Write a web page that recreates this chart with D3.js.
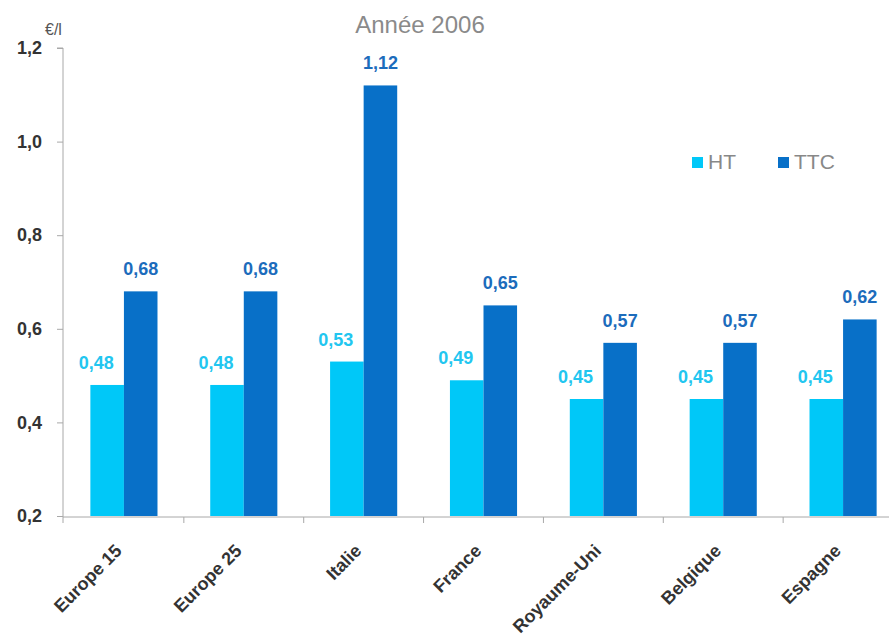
<!DOCTYPE html>
<html>
<head>
<meta charset="utf-8">
<script src="https://cdn.jsdelivr.net/npm/d3@7"></script>
<style>
  html, body { margin: 0; padding: 0; background: #fff; }
  svg { display: block; font-family: "Liberation Sans", Arial, sans-serif; }
</style>
</head>
<body>
<svg id="chart" width="889" height="639"></svg>
<script>
// Prix moyen au litre, année 2006
const categories = ["Europe 15", "Europe 25", "Italie", "France", "Royaume-Uni", "Belgique", "Espagne"];
const series = ["HT", "TTC"];
const htValues = [0.48, 0.48, 0.53, 0.49, 0.45, 0.45, 0.45];
const ttcValues = [0.68, 0.68, 1.12, 0.65, 0.57, 0.57, 0.62];
const yTicks = [0.2, 0.4, 0.6, 0.8, 1.0, 1.2];
const title = "Année 2006";
const unit = "€/l";

const colors = { HT: "#00c8f8", TTC: "#0870c8" };
const labelColors = { HT: "#22c6f0", TTC: "#1c6cbc" };

const rows = categories.map((c, i) => ({ cat: c, HT: htValues[i], TTC: ttcValues[i] }));

const svg = d3.select("#chart");
const axisX = 63, baseY = 516, topY = 48;

const fr = d3.formatLocale({ decimal: ",", thousands: " ", grouping: [3], currency: ["", " €"] });
const fmtTick = fr.format(".1f");
const fmtVal = fr.format(".2f");

const x = d3.scaleBand().domain(categories).range([64, 903]).paddingInner(0.44).paddingOuter(0.22);
const xs = d3.scaleBand().domain(series).range([0, x.bandwidth()]);
const y = d3.scaleLinear().domain([0.2, 1.2]).range([baseY, topY]);

// Title and unit
svg.append("text").attr("x", 420).attr("y", 33).attr("text-anchor", "middle")
  .attr("font-size", 24).attr("fill", "#8a8a8a").text(title);
svg.append("text").attr("x", 45).attr("y", 35)
  .attr("font-size", 16).attr("fill", "#555").text(unit);

// Y axis
const yAxis = d3.axisLeft(y).tickValues(yTicks).tickSize(6).tickPadding(15).tickFormat(fmtTick);
const gy = svg.append("g").attr("transform", `translate(${axisX},0)`).call(yAxis);
gy.select(".domain").attr("stroke", "#a8a8a8").attr("d", `M-6,${topY}H0V${baseY + 1}`);
gy.selectAll(".tick line").attr("stroke", "#a8a8a8");
gy.selectAll(".tick text").attr("font-size", 18).attr("font-weight", "bold")
  .attr("fill", "#333").attr("font-family", "\"Liberation Sans Narrow\", \"Liberation Sans\", Arial, sans-serif");

// Bars
const groups = svg.append("g").selectAll("g").data(rows).join("g")
  .attr("transform", d => `translate(${x(d.cat)},0)`);

groups.selectAll("rect").data(d => series.map(s => ({ s, v: d[s] }))).join("rect")
  .attr("x", d => xs(d.s)).attr("width", xs.bandwidth())
  .attr("y", d => y(d.v)).attr("height", d => y(0.2) - y(d.v))
  .attr("fill", d => colors[d.s]);

// Value labels
groups.selectAll("text.val").data(d => series.map(s => ({ s, v: d[s] }))).join("text")
  .attr("class", "val")
  .attr("x", d => xs(d.s) + xs.bandwidth() / 2 + (d.s === "HT" ? -11 : 0))
  .attr("y", d => y(d.v) - 16)
  .attr("text-anchor", "middle").attr("font-size", 18).attr("font-weight", "bold")
  .attr("fill", d => labelColors[d.s]).text(d => fmtVal(d.v));

// X axis line and category separators
const step = x.step();
svg.append("line").attr("x1", axisX).attr("x2", 903).attr("y1", baseY + 1).attr("y2", baseY + 1)
  .attr("stroke", "#a8a8a8");
svg.append("g").selectAll("line").data(d3.range(categories.length + 1)).join("line")
  .attr("x1", i => x.range()[0] + i * step - (i === 0 ? 1 : 0))
  .attr("x2", i => x.range()[0] + i * step - (i === 0 ? 1 : 0))
  .attr("y1", baseY + 1).attr("y2", baseY + 7).attr("stroke", "#a8a8a8");

// Category labels
svg.append("g").selectAll("text").data(categories).join("text")
  .attr("transform", c => `translate(${x(c) + x.bandwidth() / 2 - 1},552) rotate(-45)`)
  .attr("text-anchor", "end").attr("font-size", 18).attr("font-weight", "bold")
  .attr("fill", "#333").text(c => c);

// Legend
const legend = svg.append("g").selectAll("g").data(series).join("g")
  .attr("transform", (s, i) => `translate(${692 + i * 86},157)`);
legend.append("rect").attr("width", 11).attr("height", 11).attr("fill", s => colors[s]);
legend.append("text").attr("x", 16).attr("y", 12).attr("font-size", 21)
  .attr("fill", "#888").text(s => s);
</script>
</body>
</html>
